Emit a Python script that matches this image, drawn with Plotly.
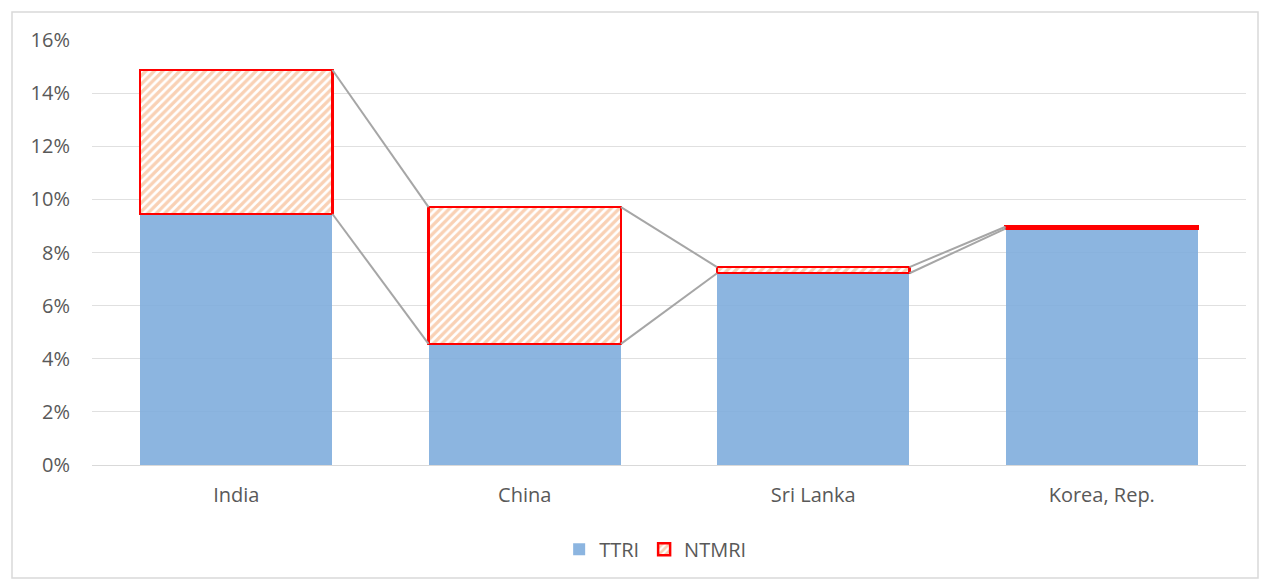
import plotly.graph_objects as go

categories = ["India", "China", "Sri Lanka", "Korea, Rep."]
ttri = [0.0945, 0.0456, 0.0722, 0.0890]
ntmri = [0.0542, 0.0515, 0.0023, 0.0007]
y_ticks = [0, 0.02, 0.04, 0.06, 0.08, 0.10, 0.12, 0.14, 0.16]

x_pos = list(range(len(categories)))
bar_w = 0.667
half = bar_w / 2
totals = [a + b for a, b in zip(ttri, ntmri)]

fig = go.Figure()

# series lines between adjacent bars
for i in range(len(categories) - 1):
    for vals in (ttri, totals):
        fig.add_trace(go.Scatter(
            x=[x_pos[i] + half, x_pos[i + 1] - half],
            y=[vals[i], vals[i + 1]],
            mode="lines", line=dict(color="#A6A6A6", width=2),
            showlegend=False, hoverinfo="skip"))

fig.add_trace(go.Bar(
    x=x_pos, y=ttri, name="TTRI", width=bar_w,
    marker=dict(color="rgba(128,173,221,0.9)", line=dict(width=0))))
fig.add_trace(go.Bar(
    x=x_pos, y=ntmri, name="NTMRI", width=bar_w,
    marker=dict(color="white", line=dict(color="#FF0000", width=2.5),
                pattern=dict(shape="/", fgcolor="#F4A46C", bgcolor="white",
                             size=6, solidity=0.55))))

font_fam = "Open Sans, Liberation Sans, sans-serif"
fig.update_layout(
    barmode="stack",
    width=1263, height=581,
    margin=dict(l=92, r=17, t=40, b=116),
    paper_bgcolor="white", plot_bgcolor="white",
    font=dict(family=font_fam, size=20, color="#595959"),
    xaxis=dict(tickvals=x_pos, ticktext=categories, range=[-0.5, 3.5],
               showgrid=False, zeroline=False, showline=True,
               linecolor="#D9D9D9", linewidth=1, ticks="",
               ticklabelstandoff=12,
               tickfont=dict(size=20, color="#595959")),
    yaxis=dict(tickvals=y_ticks, tickformat=".0%", range=[0, 0.16],
               showgrid=True, gridcolor="#E0E0E0", gridwidth=1,
               zeroline=False, showline=False, ticks="",
               ticklabelstandoff=21,
               tickfont=dict(size=20, color="#595959")),
    legend=dict(orientation="h", x=0.488, xanchor="center", y=-0.198,
                yanchor="middle", font=dict(size=20, color="#595959"),
                traceorder="normal", itemwidth=30),
    shapes=[dict(type="rect", xref="paper", yref="paper",
                 x0=(12 - 92) / 1154, x1=(1258 - 92) / 1154,
                 y0=(465 - 578) / 425, y1=(465 - 12) / 425,
                 line=dict(color="#D9D9D9", width=1.5), layer="below")],
)

fig.write_html("out.html")
